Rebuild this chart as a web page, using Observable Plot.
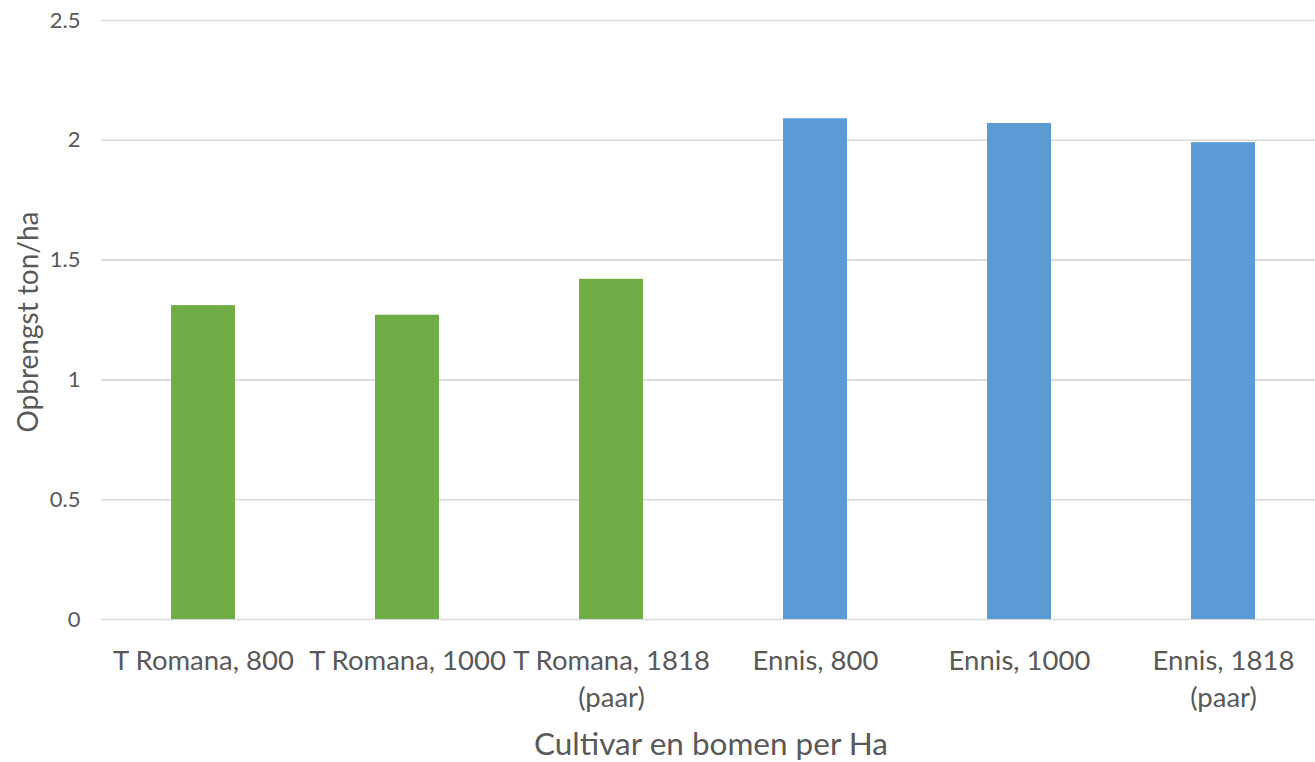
<!DOCTYPE html>
<html>
<head>
<meta charset="utf-8">
<script src="https://cdn.jsdelivr.net/npm/d3@7"></script>
<script src="https://cdn.jsdelivr.net/npm/@observablehq/plot@0.6"></script>
<style>
  html, body { margin: 0; padding: 0; background: #fff; }
  #chart { width: 1315px; height: 762px; overflow: hidden; }
</style>
</head>
<body>
<div id="chart"></div>
<script>
const categories = ["T Romana, 800", "T Romana, 1000", "T Romana, 1818\n(paar)", "Ennis, 800", "Ennis, 1000", "Ennis, 1818\n(paar)"];
const cultivars = ["T Romana", "T Romana", "T Romana", "Ennis", "Ennis", "Ennis"];
const yields = [1.31, 1.27, 1.42, 2.09, 2.07, 1.99];
const yTicks = [0, 0.5, 1, 1.5, 2, 2.5];
const yTickLabels = ["0", "0.5", "1", "1.5", "2", "2.5"];
const xTitle = "Cultivar en bomen per Ha";
const yTitle = "Opbrengst ton/ha";

const rows = categories.map((c, i) => ({category: c, cultivar: cultivars[i], value: yields[i]}));

const W = 1315, H = 762;
const textColor = "#595959";

const plot = Plot.plot({
  width: W,
  height: H,
  marginLeft: 101,
  marginRight: 0,
  marginTop: 20,
  marginBottom: 143,
  style: {fontFamily: "Lato, 'Open Sans', sans-serif", color: textColor, background: "#fff"},
  x: {domain: categories, range: [100, 1326], paddingInner: 0.687, paddingOuter: 0.3435, align: 0.5},
  y: {domain: [0, 2.5]},
  color: {domain: ["T Romana", "Ennis"], range: ["#70AD47", "#5B9BD5"]},
  marks: [
    Plot.gridY(yTicks, {stroke: "#d9d9d9", strokeOpacity: 1, strokeWidth: 1.6}),
    Plot.barY(rows, {x: "category", y: "value", fill: "cultivar"}),
    Plot.axisY(yTicks, {
      tickSize: 0, tickPadding: 21, fontSize: 22, fill: textColor,
      tickFormat: (d) => yTickLabels[yTicks.indexOf(d)], label: null
    }),
    Plot.axisX({
      tickSize: 0, tickPadding: 25, fontSize: 27.5, lineHeight: 1.33, fill: textColor,
      label: null, lineWidth: Infinity
    })
  ]
});

document.getElementById("chart").appendChild(plot);

const svg = d3.select(plot);
svg.append("text")
  .attr("x", 711).attr("y", 755)
  .attr("text-anchor", "middle")
  .attr("fill", textColor).attr("font-size", 31.5)
  .attr("font-family", "Lato, 'Open Sans', sans-serif")
  .text(xTitle);
svg.append("text")
  .attr("transform", "translate(27,322) rotate(-90)")
  .attr("text-anchor", "middle").attr("dominant-baseline", "central")
  .attr("fill", textColor).attr("font-size", 28)
  .attr("font-family", "Lato, 'Open Sans', sans-serif")
  .text(yTitle);
</script>
</body>
</html>
